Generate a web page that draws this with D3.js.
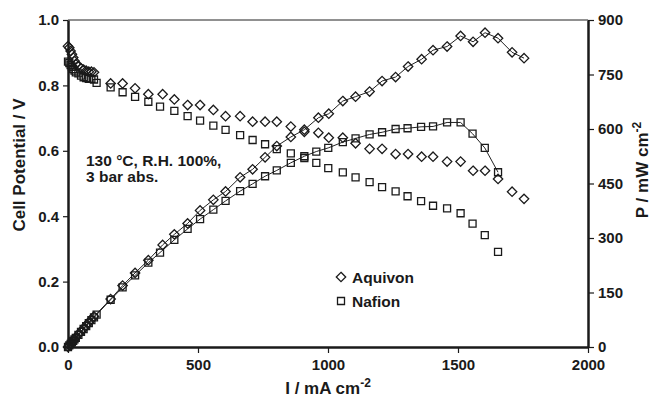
<!DOCTYPE html>
<html>
<head>
<meta charset="utf-8">
<script src="https://cdn.jsdelivr.net/npm/d3@7"></script>
<style>
  body { margin: 0; background: #fff; }
  text { font-family: "Liberation Sans", Arial, sans-serif; font-weight: bold; fill: #1a1a1a; }
</style>
</head>
<body>
<div id="chart"></div>
<script>
// Aquivon: current density (mA cm-2), cell potential (V), power density (mW cm-2)
const currentAq = [0,5,10,15,20,25,30,40,50,60,70,80,90,100,164,210,258,309,364,409,460,508,559,606,662,710,758,803,857,909,963,1003,1057,1106,1160,1208,1260,1308,1360,1404,1458,1510,1558,1604,1654,1708,1754];
const voltAq = [0.920,0.915,0.905,0.895,0.885,0.875,0.865,0.860,0.852,0.848,0.845,0.842,0.842,0.840,0.806,0.806,0.791,0.773,0.773,0.757,0.740,0.740,0.725,0.706,0.706,0.689,0.689,0.689,0.674,0.658,0.655,0.640,0.640,0.623,0.606,0.606,0.590,0.590,0.582,0.582,0.567,0.567,0.539,0.539,0.514,0.475,0.453];
const powerAq = [0,4.6,9.1,13.4,17.7,21.9,26.0,34.4,42.6,50.9,59.2,67.4,75.8,84.0,132,169,204,239,281,310,340,376,405,428,467,489,522,553,578,598,631,642,677,689,703,732,743,772,792,817,827,856,840,865,850,811,795];

// Nafion
const currentNa = [0,5,10,15,20,25,30,40,50,60,70,80,90,100,110,164,210,258,309,354,409,460,508,559,606,662,710,758,803,857,909,955,1001,1057,1106,1160,1208,1260,1306,1358,1404,1458,1510,1556,1603,1654];
const voltNa = [0.873,0.868,0.862,0.857,0.850,0.845,0.840,0.837,0.830,0.825,0.822,0.820,0.820,0.818,0.808,0.794,0.779,0.765,0.750,0.735,0.722,0.706,0.692,0.677,0.664,0.648,0.633,0.620,0.605,0.592,0.578,0.563,0.547,0.534,0.519,0.504,0.489,0.476,0.461,0.446,0.432,0.424,0.409,0.377,0.342,0.291];
const powerNa = [0,4.3,8.6,12.9,17.0,21.1,25.2,33.5,41.5,49.5,57.5,65.6,73.8,81.8,88.9,130,164,197,232,260,295,325,352,378,402,429,449,470,486,507,525,538,548,564,574,585,591,600,602,606,607,618,618,587,548,481];

const xTicks = [0,500,1000,1500,2000];
const vTicks = [0,0.2,0.4,0.6,0.8,1.0];
const pTicks = [0,150,300,450,600,750,900];

const W = 654, H = 405;
const margin = {top: 20, right: 66, bottom: 58, left: 68};
const w = W - margin.left - margin.right,
      h = H - margin.top - margin.bottom;

const svg = d3.select("#chart").append("svg")
    .attr("width", W).attr("height", H);
const g = svg.append("g").attr("transform", `translate(${margin.left},${margin.top})`);

const x = d3.scaleLinear().domain([0,2000]).range([0,w]);
const yV = d3.scaleLinear().domain([0,1]).range([h,0]);
const yP = d3.scaleLinear().domain([0,900]).range([h,0]);

const diamond = "M0,-4.7L4.7,0L0,4.7L-4.7,0Z";
const square = "M-3.5,-3.5H3.5V3.5H-3.5Z";

const aq = currentAq.map((c,i) => ({c, v: voltAq[i], p: powerAq[i]}));
const na = currentNa.map((c,i) => ({c, v: voltNa[i], p: powerNa[i]}));

// top frame line
g.append("line").attr("x1",0).attr("x2",w).attr("y1",0).attr("y2",0)
  .attr("stroke","#222").attr("stroke-width",1);

// power lines
const line = d3.line().x(d => x(d.c)).y(d => yP(d.p));
[aq, na].forEach(s => {
  g.append("path").datum(s).attr("d", line)
    .attr("fill","none").attr("stroke","#222").attr("stroke-width",1);
});

function marks(data, shape, acc, scale) {
  g.append("g").selectAll("path").data(data).join("path")
    .attr("d", shape)
    .attr("transform", d => `translate(${x(d.c)},${scale(acc(d))})`)
    .attr("fill","none").attr("stroke","#1a1a1a").attr("stroke-width",1.3);
}
marks(aq, diamond, d => d.v, yV);
marks(na, square, d => d.v, yV);
marks(aq, diamond, d => d.p, yP);
marks(na, square, d => d.p, yP);

// axes
function styleAxis(sel) {
  sel.select(".domain").attr("stroke","#1a1a1a").attr("stroke-width",2.5);
  sel.selectAll(".tick line").attr("stroke","#1a1a1a").attr("stroke-width",1.2);
  sel.selectAll(".tick text").style("font-size","15px");
}
g.append("g").attr("transform",`translate(0,${h})`)
  .call(d3.axisBottom(x).tickValues(xTicks).tickFormat(d3.format("d")).tickSize(6).tickSizeOuter(0).tickPadding(6))
  .call(styleAxis);
g.append("g")
  .call(d3.axisLeft(yV).tickValues(vTicks).tickFormat(d3.format(".1f")).tickSize(5).tickSizeOuter(0).tickPadding(4))
  .call(styleAxis);
g.append("g").attr("transform",`translate(${w},0)`)
  .call(d3.axisRight(yP).tickValues(pTicks).tickFormat(d3.format("d")).tickSize(6).tickSizeOuter(0).tickPadding(4))
  .call(styleAxis);

// axis titles
const xt = svg.append("text").attr("x", 328).attr("y", 394)
  .attr("text-anchor","middle").style("font-size","17px");
xt.append("tspan").text("I / mA cm");
xt.append("tspan").attr("dy",-7).style("font-size","12px").text("-2");

svg.append("text").attr("transform","translate(25,165) rotate(-90)")
  .attr("text-anchor","middle").style("font-size","17px").text("Cell Potential / V");

const rt = svg.append("text").attr("transform","translate(648,170) rotate(-90)")
  .attr("text-anchor","middle").style("font-size","17px");
rt.append("tspan").text("P / mW cm");
rt.append("tspan").attr("dy",-7).style("font-size","12px").text("-2");

// annotation
const ann = svg.append("text").attr("x",86).attr("y",166).style("font-size","15.5px");
ann.append("tspan").attr("x",86).text("130 °C, R.H. 100%,");
ann.append("tspan").attr("x",86).attr("dy",16).text("3 bar abs.");

// legend
const legend = [{name:"Aquivon", shape: diamond}, {name:"Nafion", shape: square}];
const lg = svg.append("g").selectAll("g").data(legend).join("g")
  .attr("transform", (d,i) => `translate(341,${277 + i*24})`);
lg.append("path").attr("d", d => d.shape)
  .attr("fill","none").attr("stroke","#1a1a1a").attr("stroke-width",1.3);
lg.append("text").attr("x",11).attr("y",5.5).style("font-size","15.5px").text(d => d.name);
</script>
</body>
</html>
